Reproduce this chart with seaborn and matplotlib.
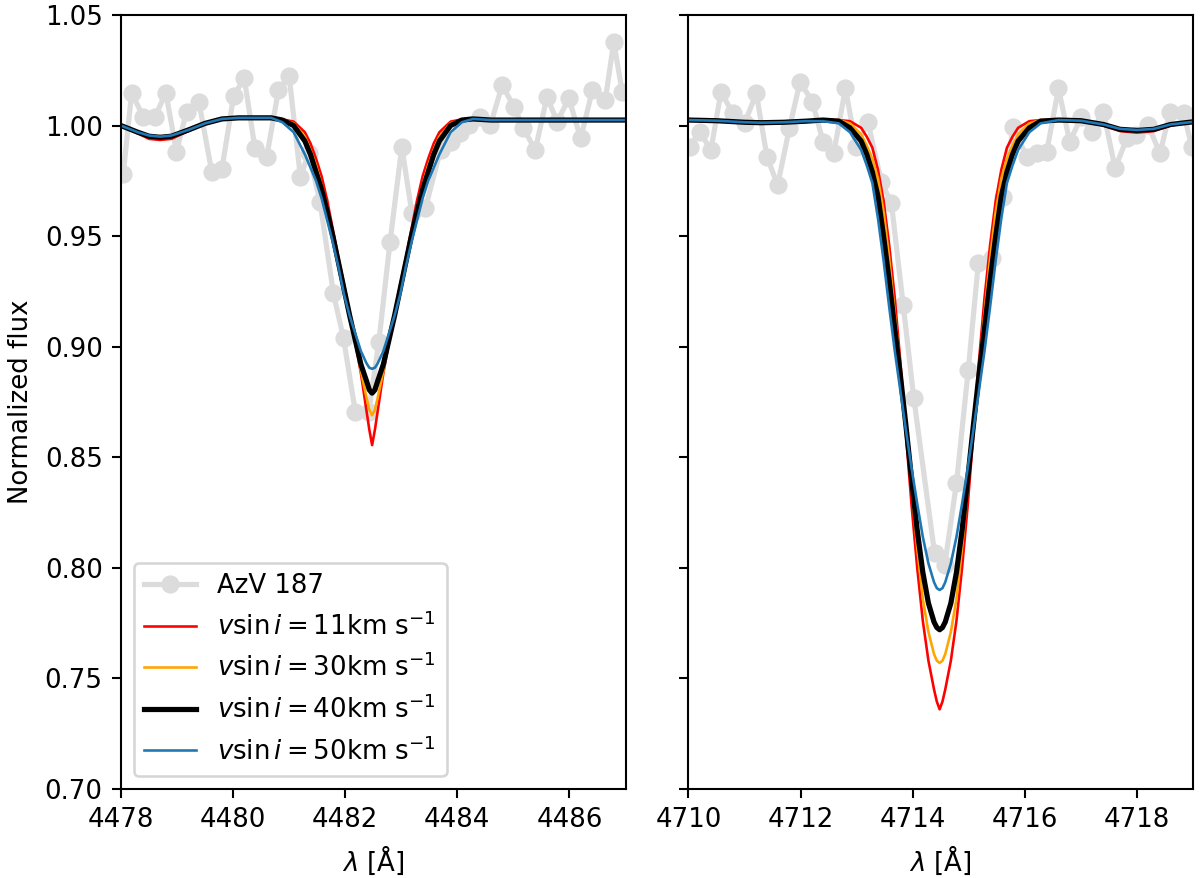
import numpy as np
import pandas as pd
import matplotlib
matplotlib.use("Agg")
import matplotlib.pyplot as plt
import seaborn as sns

# ---------------- observed spectrum (AzV 187) ----------------
obs_left_wave = [4478.04, 4478.19, 4478.40, 4478.61, 4478.80, 4478.99, 4479.17, 4479.39,
                 4479.62, 4479.80, 4480.01, 4480.20, 4480.39, 4480.60, 4480.81, 4481.00,
                 4481.20, 4481.35, 4481.55, 4481.79, 4481.97, 4482.18, 4482.42, 4482.60,
                 4482.80, 4483.01, 4483.19, 4483.43, 4483.70, 4483.88, 4484.05, 4484.20,
                 4484.41, 4484.59, 4484.80, 4485.01, 4485.18, 4485.39, 4485.60, 4485.78,
                 4485.99, 4486.20, 4486.41, 4486.64, 4486.79, 4486.94]
obs_left_flux = [0.978, 1.0146, 1.004, 1.004, 1.0149, 0.9882, 1.0063, 1.0108,
                 0.9791, 0.9803, 1.0134, 1.0214, 0.9897, 0.9859, 1.0161, 1.0224,
                 0.9769, 0.9874, 0.9656, 0.9241, 0.9038, 0.8706, 0.8706, 0.9022,
                 0.9475, 0.9904, 0.9603, 0.9626, 0.9889, 0.9927, 0.9965, 1.0002,
                 1.004, 1.0002, 1.0183, 1.0085, 0.9988, 0.9889, 1.0131, 1.0017,
                 1.0123, 0.9942, 1.0161, 1.0116, 1.0378, 1.0153]

obs_right_wave = [4710.02, 4710.20, 4710.40, 4710.58, 4710.79, 4711.00, 4711.21, 4711.40,
                  4711.59, 4711.80, 4711.99, 4712.21, 4712.40, 4712.59, 4712.80, 4712.99,
                  4713.20, 4713.44, 4713.62, 4713.83, 4714.02, 4714.39, 4714.57, 4714.78,
                  4714.99, 4715.17, 4715.41, 4715.61, 4715.79, 4716.03, 4716.21, 4716.39,
                  4716.60, 4716.80, 4717.01, 4717.19, 4717.40, 4717.61, 4717.82, 4717.99,
                  4718.20, 4718.41, 4718.59, 4718.83, 4718.98]
obs_right_flux = [0.9904, 0.9972, 0.9889, 1.0153, 1.0055, 1.001, 1.0146, 0.9859,
                  0.9731, 0.9988, 1.0198, 1.0108, 0.9927, 0.9874, 1.0168, 0.9904,
                  1.0017, 0.9746, 0.9648, 0.9188, 0.8766, 0.8065, 0.8012, 0.8382,
                  0.8894, 0.9377, 0.9400, 0.9678, 0.9995, 0.9859, 0.9874, 0.9882,
                  1.0168, 0.9927, 1.004, 0.9972, 1.0063, 0.9807, 0.9942, 0.9957,
                  1.0003, 0.9874, 1.0063, 1.0055, 0.9904]

# ---------------- model spectra: left panel ----------------
model_left_wave = [4478.0, 4478.3, 4478.5, 4478.7, 4478.9, 4479.2, 4479.5, 4479.8, 4480.1, 4480.4,
                   4480.68, 4480.88, 4481.08, 4481.28, 4481.38, 4481.48, 4481.58, 4481.68,
                   4481.78, 4481.88, 4481.98, 4482.08, 4482.18, 4482.28, 4482.38, 4482.43,
                   4482.48,
                   4482.53, 4482.58, 4482.68, 4482.78, 4482.88, 4482.98, 4483.08, 4483.18,
                   4483.28, 4483.38, 4483.48, 4483.58, 4483.68, 4483.88, 4484.08, 4484.28,
                   4484.6, 4485.0, 4485.5, 4486.0, 4486.5, 4487.0]
model_left_v11 = [1.000, 0.9965, 0.994, 0.9935, 0.994, 0.9975, 1.001, 1.003, 1.0035, 1.0035,
                  1.0035, 1.0028, 1.0018, 0.997, 0.992, 0.985, 0.977, 0.966,
                  0.953, 0.940, 0.928, 0.915, 0.902, 0.888, 0.871, 0.8625,
                  0.8555,
                  0.8625, 0.871, 0.888, 0.902, 0.915, 0.928, 0.940, 0.953,
                  0.966, 0.977, 0.985, 0.992, 0.997, 1.0018, 1.0028, 1.003,
                  1.0025, 1.0025, 1.0025, 1.0025, 1.0025, 1.0025]
model_left_v30 = [1.000, 0.997, 0.9948, 0.9943, 0.9948, 0.998, 1.001, 1.003, 1.0035, 1.0035,
                  1.0035, 1.0027, 1.001, 0.995, 0.989, 0.982, 0.973, 0.963,
                  0.951, 0.939, 0.926, 0.914, 0.902, 0.889, 0.877, 0.8715,
                  0.869,
                  0.8715, 0.877, 0.889, 0.902, 0.914, 0.926, 0.939, 0.951,
                  0.963, 0.973, 0.982, 0.989, 0.995, 1.001, 1.0027, 1.003,
                  1.0025, 1.0025, 1.0025, 1.0025, 1.0025, 1.0025]
model_left_v40 = [1.000, 0.997, 0.9952, 0.9947, 0.9952, 0.998, 1.001, 1.003, 1.0035, 1.0035,
                  1.0035, 1.0025, 1.000, 0.993, 0.987, 0.979, 0.971, 0.961,
                  0.950, 0.938, 0.926, 0.914, 0.903, 0.892, 0.8845, 0.8805,
                  0.879,
                  0.8805, 0.8845, 0.892, 0.903, 0.914, 0.926, 0.938, 0.950,
                  0.961, 0.971, 0.979, 0.987, 0.993, 1.000, 1.0025, 1.003,
                  1.0025, 1.0025, 1.0025, 1.0025, 1.0025, 1.0025]
model_left_v50 = [1.000, 0.997, 0.9955, 0.995, 0.9955, 0.998, 1.001, 1.003, 1.0035, 1.0035,
                  1.0035, 1.0015, 0.997, 0.987, 0.981, 0.975, 0.967, 0.957,
                  0.947, 0.936, 0.9235, 0.914, 0.906, 0.898, 0.8925, 0.8905,
                  0.890,
                  0.8905, 0.8925, 0.898, 0.906, 0.914, 0.9235, 0.936, 0.947,
                  0.957, 0.967, 0.975, 0.981, 0.987, 0.997, 1.0015, 1.003,
                  1.0025, 1.0025, 1.0025, 1.0025, 1.0025, 1.0025]

# ---------------- model spectra: right panel ----------------
model_right_wave = [4710.0, 4710.5, 4711.0, 4711.3, 4711.7, 4712.1, 4712.4,
                    4712.68, 4712.88, 4713.08, 4713.18, 4713.28, 4713.38, 4713.48, 4713.58,
                    4713.68, 4713.78, 4713.88, 4713.98, 4714.08, 4714.18, 4714.28, 4714.38,
                    4714.43, 4714.48, 4714.53,
                    4714.58, 4714.68, 4714.78, 4714.88, 4714.98, 4715.08, 4715.18, 4715.28,
                    4715.38, 4715.48, 4715.58, 4715.68, 4715.78, 4715.88, 4716.08, 4716.28,
                    4716.6, 4717.0, 4717.4, 4717.7, 4718.0, 4718.3, 4718.6, 4719.0]
model_right_v11 = [1.0025, 1.0022, 1.0015, 1.0013, 1.0015, 1.002, 1.0025,
                   1.0025, 1.002, 0.999, 0.995, 0.990, 0.980, 0.966, 0.946,
                   0.922, 0.893, 0.860, 0.828, 0.800, 0.776, 0.758, 0.745,
                   0.7395, 0.736, 0.7395,
                   0.745, 0.758, 0.776, 0.800, 0.828, 0.860, 0.893, 0.922,
                   0.946, 0.966, 0.980, 0.990, 0.995, 0.999, 1.002, 1.0025,
                   1.0025, 1.0022, 1.0, 0.9975, 0.9968, 0.9975, 1.0, 1.0017]
model_right_v30 = [1.0025, 1.0022, 1.0015, 1.0013, 1.0015, 1.002, 1.0025,
                   1.0025, 1.001, 0.996, 0.991, 0.985, 0.976, 0.961, 0.940,
                   0.915, 0.890, 0.864, 0.836, 0.809, 0.786, 0.771, 0.761,
                   0.758, 0.757, 0.758,
                   0.761, 0.771, 0.786, 0.809, 0.836, 0.864, 0.890, 0.915,
                   0.940, 0.961, 0.976, 0.985, 0.991, 0.996, 1.001, 1.0025,
                   1.0025, 1.0022, 1.0003, 0.998, 0.9974, 0.998, 1.0003, 1.0017]
model_right_v40 = [1.0025, 1.0022, 1.0015, 1.0013, 1.0015, 1.002, 1.0025,
                   1.002, 0.999, 0.993, 0.987, 0.979, 0.968, 0.950, 0.930,
                   0.908, 0.887, 0.864, 0.840, 0.817, 0.798, 0.784, 0.7755,
                   0.773, 0.772, 0.773,
                   0.7755, 0.784, 0.798, 0.817, 0.840, 0.864, 0.887, 0.908,
                   0.930, 0.950, 0.968, 0.979, 0.987, 0.993, 0.999, 1.002,
                   1.0025, 1.0022, 1.0005, 0.9983, 0.9978, 0.9983, 1.0005, 1.0017]
model_right_v50 = [1.0025, 1.0022, 1.0015, 1.0013, 1.0015, 1.002, 1.002,
                   1.001, 0.997, 0.989, 0.982, 0.974, 0.958, 0.939, 0.918,
                   0.898, 0.880, 0.862, 0.845, 0.829, 0.814, 0.802, 0.7935,
                   0.7908, 0.790, 0.7908,
                   0.7935, 0.802, 0.814, 0.829, 0.845, 0.862, 0.880, 0.898,
                   0.918, 0.939, 0.958, 0.974, 0.982, 0.989, 0.997, 1.001,
                   1.0025, 1.0022, 1.0005, 0.9985, 0.998, 0.9985, 1.0005, 1.0017]

obs_label = "AzV 187"
model_labels = [r"$v\sin i=11\mathrm{km\ s^{-1}}$",
                r"$v\sin i=30\mathrm{km\ s^{-1}}$",
                r"$v\sin i=40\mathrm{km\ s^{-1}}$",
                r"$v\sin i=50\mathrm{km\ s^{-1}}$"]
model_colors = ["red", "orange", "black", "#1f77b4"]
model_widths = [1.0, 1.0, 2.0, 1.0]

left_xticks = [4478, 4480, 4482, 4484, 4486]
right_xticks = [4710, 4712, 4714, 4716, 4718]
yticks = [0.70, 0.75, 0.80, 0.85, 0.90, 0.95, 1.00, 1.05]

fig, (ax1, ax2) = plt.subplots(1, 2, sharey=True, figsize=(6.4, 878 / 187.5), dpi=187.5)
fig.subplots_adjust(left=0.1008, right=0.9942, bottom=0.1014, top=0.9829, wspace=0.1248)

panels = [
    (ax1, obs_left_wave, obs_left_flux, model_left_wave,
     [model_left_v11, model_left_v30, model_left_v40, model_left_v50], (4478, 4487), left_xticks, True),
    (ax2, obs_right_wave, obs_right_flux, model_right_wave,
     [model_right_v11, model_right_v30, model_right_v40, model_right_v50], (4710, 4719), right_xticks, False),
]

for ax, ow, of, mw, models, xlim, xt, with_legend in panels:
    df_obs = pd.DataFrame({"wave": ow, "flux": of})
    sns.lineplot(data=df_obs, x="wave", y="flux", ax=ax, color="#dcdcdc", lw=2.0,
                 marker="o", markersize=7, markeredgewidth=0, estimator=None, sort=False,
                 label=obs_label if with_legend else None, legend=with_legend, zorder=1)
    for mflux, lab, col, lw in zip(models, model_labels, model_colors, model_widths):
        df_m = pd.DataFrame({"wave": mw, "flux": mflux})
        sns.lineplot(data=df_m, x="wave", y="flux", ax=ax, color=col, lw=lw,
                     estimator=None, sort=False,
                     label=lab if with_legend else None, legend=with_legend, zorder=2)
    ax.set_xlim(*xlim)
    ax.set_xticks(xt)
    ax.set_xlabel(r"$\lambda$ [Å]")
    ax.set_ylabel("")

ax1.set_ylim(0.70, 1.05)
ax1.set_yticks(yticks)
ax1.set_yticklabels([f"{v:.2f}" for v in yticks])
ax1.set_ylabel("Normalized flux")
ax2.tick_params(labelleft=False)
ax1.legend(loc="lower left")
if ax2.get_legend() is not None:
    ax2.get_legend().remove()

fig.savefig("out.png", dpi=187.5)
